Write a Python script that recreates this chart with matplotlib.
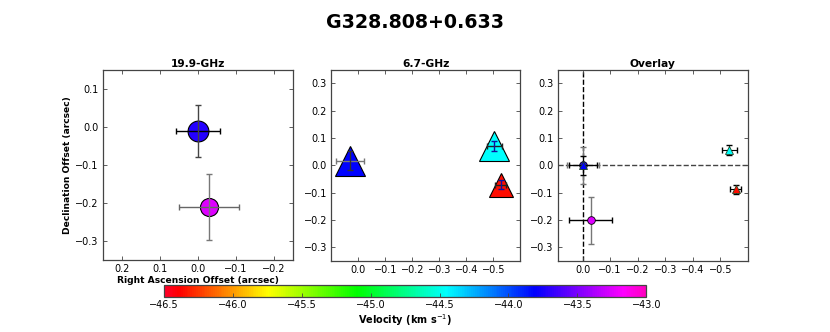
import numpy as np
import matplotlib
matplotlib.use("Agg")
import matplotlib.pyplot as plt
from matplotlib.colors import Normalize
from matplotlib.cm import ScalarMappable

TITLE = "G328.808+0.633"

# 19.9-GHz continuum components (offsets in arcsec, velocity in km/s)
c_ra = [0.000, -0.029]
c_dec = [-0.010, -0.211]
c_ra_err = [0.058, 0.079]
c_dec_err = [0.068, 0.086]
c_vel = [-43.72, -43.25]
c_size = [15, 13]

# 6.7-GHz methanol maser spots
m_ra = [0.030, -0.503, -0.527]
m_dec = [0.017, 0.072, -0.071]
m_ra_err = [0.051, 0.028, 0.020]
m_dec_err = [0.035, 0.018, 0.016]
m_vel = [-43.82, -44.45, -46.36]
m_size = [21, 21, 17]

VMIN, VMAX = -46.5, -43.0
cbar_ticks = [-46.5, -46.0, -45.5, -45.0, -44.5, -44.0, -43.5, -43.0]
pos_ticks = [0.3, 0.2, 0.1, 0.0, -0.1, -0.2, -0.3]
ra_ticks1 = [0.2, 0.1, 0.0, -0.1, -0.2]
ra_ticks2 = [0.0, -0.1, -0.2, -0.3, -0.4, -0.5]

cmap = plt.get_cmap("gist_rainbow")
norm = Normalize(vmin=VMIN, vmax=VMAX)

plt.rcParams["font.family"] = "DejaVu Sans"
plt.rcParams["axes.edgecolor"] = "#444444"

fig = plt.figure(figsize=(8.3, 3.32), dpi=100)
fig.text(0.5, 0.933, TITLE, ha="center", va="center", fontsize=13.7, fontweight="bold")

ax1 = fig.add_axes([0.124, 0.217, 0.229, 0.572])
ax2 = fig.add_axes([0.399, 0.214, 0.228, 0.576])
ax3 = fig.add_axes([0.672, 0.214, 0.229, 0.576])


def style(ax, title):
    ax.set_title(title, fontsize=7.7, fontweight="bold", pad=2)
    ax.tick_params(direction="in", top=True, right=True, labelsize=7,
                   length=3, width=0.6, color="#444444", pad=3)
    for s in ax.spines.values():
        s.set_linewidth(0.9)


# ── 19.9-GHz panel ──────────────────────────────────────────────────────────
for i in range(len(c_ra)):
    ax1.errorbar(c_ra[i], c_dec[i], xerr=c_ra_err[i], fmt="none",
                 ecolor="black" if i == 0 else "#666666", elinewidth=1, capsize=2, zorder=2)
    ax1.errorbar(c_ra[i], c_dec[i], yerr=c_dec_err[i], fmt="none",
                 ecolor="#444444" if i == 0 else "#777777", elinewidth=1, capsize=2, zorder=2)
    ax1.plot(c_ra[i], c_dec[i], "o", ms=c_size[i], mfc=cmap(norm(c_vel[i])),
             mec="black", mew=0.8, zorder=1)
ax1.set_xlim(0.25, -0.25)
ax1.set_ylim(-0.35, 0.15)
ax1.set_xticks(ra_ticks1)
ax1.set_yticks([0.1, 0.0, -0.1, -0.2, -0.3])
ax1.set_xlabel("Right Ascension Offset (arcsec)", fontsize=6.6, fontweight="bold", labelpad=1)
ax1.set_ylabel("Declination Offset (arcsec)", fontsize=6.6, fontweight="bold", labelpad=2)
style(ax1, "19.9-GHz")

# ── 6.7-GHz panel ───────────────────────────────────────────────────────────
for i in range(len(m_ra)):
    ax2.plot(m_ra[i], m_dec[i], "^", ms=m_size[i], mfc=cmap(norm(m_vel[i])),
             mec="black", mew=0.8, zorder=1)
    ax2.errorbar(m_ra[i], m_dec[i], xerr=m_ra_err[i], fmt="none",
                 ecolor="#777777" if i == 0 else "#222222", elinewidth=1, capsize=2, zorder=2)
    ax2.errorbar(m_ra[i], m_dec[i], yerr=m_dec_err[i], fmt="none",
                 ecolor="#333333" if i == 0 else "#1010a0", elinewidth=1, capsize=2, zorder=2)
ax2.set_xlim(0.1, -0.6)
ax2.set_ylim(-0.35, 0.35)
ax2.set_xticks(ra_ticks2)
ax2.set_yticks(pos_ticks)
style(ax2, "6.7-GHz")

# ── Overlay panel (each set relative to its reference spot) ────────────────
c_ra_o = np.array(c_ra) - c_ra[0]
c_dec_o = np.array(c_dec) - c_dec[0]
m_ra_o = np.array(m_ra) - m_ra[0]
m_dec_o = np.array(m_dec) - m_dec[0]

ax3.axvline(0, color="black", ls="--", lw=1, zorder=0)
ax3.axhline(0, color="#444444", ls="--", lw=1, zorder=0)
for i in range(len(c_ra)):
    ax3.errorbar(c_ra_o[i], c_dec_o[i], xerr=c_ra_err[i], fmt="none",
                 ecolor="#777777" if i == 0 else "black", elinewidth=1, capsize=2, zorder=2)
    ax3.errorbar(c_ra_o[i], c_dec_o[i], yerr=c_dec_err[i], fmt="none",
                 ecolor="#777777", elinewidth=1, capsize=2, zorder=2)
    ax3.plot(c_ra_o[i], c_dec_o[i], "o", ms=5.5, mfc=cmap(norm(c_vel[i])),
             mec="black", mew=0.6, zorder=3)
for i in range(len(m_ra)):
    ax3.errorbar(m_ra_o[i], m_dec_o[i], xerr=m_ra_err[i], yerr=m_dec_err[i], fmt="none",
                 ecolor="black", elinewidth=0.8, capsize=2, zorder=4)
    ax3.plot(m_ra_o[i], m_dec_o[i], "^", ms=5.5, mfc=cmap(norm(m_vel[i])),
             mec="#224422", mew=0.6, zorder=5)
ax3.set_xlim(0.09, -0.6)
ax3.set_ylim(-0.35, 0.35)
ax3.set_xticks(ra_ticks2)
ax3.set_yticks(pos_ticks)
style(ax3, "Overlay")

# ── Velocity colour bar ─────────────────────────────────────────────────────
cax = fig.add_axes([0.1976, 0.105, 0.581, 0.036])
sm = ScalarMappable(norm=norm, cmap=cmap)
cb = fig.colorbar(sm, cax=cax, orientation="horizontal", ticks=cbar_ticks)
cb.ax.tick_params(direction="in", labelsize=7, length=3, width=0.6, color="#444444", pad=2)
cb.outline.set_linewidth(0.9)
cb.set_label("Velocity (km s$^{-1}$)", fontsize=7, fontweight="bold", labelpad=2)

fig.savefig("out.png", dpi=100)
